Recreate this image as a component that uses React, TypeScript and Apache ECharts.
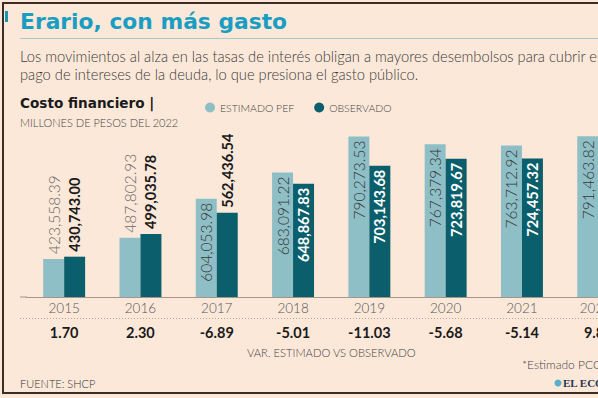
import React, { useEffect, useRef } from 'react';
import * as echarts from 'echarts';

const categories = ['2015', '2016', '2017', '2018', '2019', '2020', '2021', '2022*'];
const estimadoPEF = [423558.39, 487802.93, 604053.98, 683091.22, 790273.53, 767379.34, 763712.92, 791463.82];
const observado = [430743.0, 499035.78, 562436.54, 648867.83, 703143.68, 723819.67, 724457.32, 869200.0];
const variacion = ['1.70', '2.30', '-6.89', '-5.01', '-11.03', '-5.68', '-5.14', '9.82'];
const estimadoInsideFrom = 2;
const observadoInsideFrom = 3;

const BG = '#fce8d9';
const LIGHT = '#8fbfc6';
const DARK = '#0b5f6c';
const FONT = 'Lato';

const fmt = (v: number) =>
  v.toLocaleString('en-US', { minimumFractionDigits: 2, maximumFractionDigits: 2 });

export default function App() {
  const ref = useRef<HTMLDivElement>(null);
  useEffect(() => {
    if (!ref.current) return;
    const chart = echarts.init(ref.current, undefined, { renderer: 'svg' });
    const baseLabel = {
      show: true,
      rotate: 90,
      verticalAlign: 'middle',
      fontFamily: FONT,
      formatter: (p: any) => fmt(p.value),
    };
    const lightOut = { ...baseLabel, position: 'top', align: 'left', distance: 5, color: '#6a6a6a', fontSize: 15.5, fontWeight: 300 };
    const lightIn = { ...baseLabel, position: 'insideTop', align: 'right', distance: 4, color: '#353535', fontSize: 15.5, fontWeight: 300 };
    const darkOut = { ...baseLabel, position: 'top', align: 'left', distance: 5, color: '#1a1a1a', fontSize: 14.5, fontWeight: 'bold' };
    const darkIn = { ...baseLabel, position: 'insideTop', align: 'right', distance: 4, color: '#ffffff', fontSize: 14.5, fontWeight: 'bold' };

    const frame = '#3b2d25';
    chart.setOption({
      animation: false,
      backgroundColor: BG,
      textStyle: { fontFamily: FONT },
      legend: {
        left: 200,
        top: 97,
        icon: 'circle',
        itemWidth: 10,
        itemHeight: 10,
        itemGap: 20,
        textStyle: { fontSize: 10.5, color: '#444', fontFamily: FONT, fontWeight: 300 },
        data: ['ESTIMADO PEF', 'OBSERVADO'],
      },
      grid: { left: 26, right: 3.6, top: 110, bottom: 101 },
      xAxis: [
        {
          type: 'category',
          data: categories,
          axisLine: { show: true, lineStyle: { color: '#a6958a', width: 1 } },
          axisTick: { show: false },
          axisLabel: { color: '#555', fontSize: 13.5, fontFamily: FONT, fontWeight: 300, margin: 4 },
        },
        {
          type: 'category',
          data: variacion,
          position: 'bottom',
          offset: 24,
          axisLine: { show: false },
          axisTick: { show: false },
          axisLabel: { color: '#1a1a1a', fontSize: 14.5, fontFamily: FONT, fontWeight: 'bold', margin: 4 },
        },
      ],
      yAxis: { type: 'value', min: 310000, max: 870000, show: false, splitLine: { show: false } },
      series: [
        {
          name: 'ESTIMADO PEF',
          type: 'bar',
          xAxisIndex: 0,
          barGap: '0%',
          barCategoryGap: '45%',
          itemStyle: { color: LIGHT },
          data: estimadoPEF.map((v, i) => ({ value: v, label: i < estimadoInsideFrom ? lightOut : lightIn })),
        },
        {
          name: 'OBSERVADO',
          type: 'bar',
          xAxisIndex: 0,
          barGap: '0%',
          barCategoryGap: '45%',
          itemStyle: { color: DARK },
          data: observado.map((v, i) => ({ value: v, label: i < observadoInsideFrom ? darkOut : darkIn })),
        },
      ],
      graphic: [
        { type: 'line', shape: { x1: 2, y1: 3, x2: 640, y2: 3 }, style: { stroke: frame, lineWidth: 2 } },
        { type: 'line', shape: { x1: 3, y1: 2, x2: 3, y2: 394 }, style: { stroke: frame, lineWidth: 2 } },
        { type: 'line', shape: { x1: 2, y1: 393, x2: 640, y2: 393 }, style: { stroke: frame, lineWidth: 2 } },
        { type: 'rect', shape: { x: 5, y: 11, width: 3, height: 11 }, style: { fill: '#1597b5' } },
        {
          type: 'text', x: 20, y: 21,
          style: { text: 'Erario, con más gasto', fill: '#1a9dc3', font: 'bold 21.8px "DejaVu Sans"', textVerticalAlign: 'middle' },
        },
        { type: 'line', shape: { x1: 20, y1: 38.5, x2: 640, y2: 38.5 }, style: { stroke: '#a9c9cc', lineWidth: 1 } },
        {
          type: 'text', x: 20, y: 56,
          style: {
            text: 'Los movimientos al alza en las tasas de interés obligan a mayores desembolsos para cubrir el',
            fill: '#3a3a3a', font: `300 14.7px ${FONT}`, textVerticalAlign: 'middle',
          },
        },
        {
          type: 'text', x: 20, y: 74,
          style: {
            text: 'pago de intereses de la deuda, lo que presiona el gasto público.',
            fill: '#3a3a3a', font: `300 14.7px ${FONT}`, textVerticalAlign: 'middle',
          },
        },
        {
          type: 'text', x: 20, y: 103,
          style: { text: 'Costo financiero |', fill: '#1a1a1a', font: 'bold 13.6px "DejaVu Sans"', textVerticalAlign: 'middle' },
        },
        {
          type: 'text', x: 20, y: 122,
          style: { text: 'MILLONES DE PESOS DEL 2022', fill: '#444', font: `300 11px ${FONT}`, textVerticalAlign: 'middle' },
        },
        { type: 'line', shape: { x1: 20, y1: 297, x2: 27, y2: 297 }, style: { stroke: '#a6958a', lineWidth: 1 } },
        {
          type: 'line', shape: { x1: 20, y1: 318.5, x2: 640, y2: 318.5 },
          style: { stroke: '#b3a59b', lineWidth: 1, lineDash: [1, 2] },
        },
        {
          type: 'text', x: 247, y: 352,
          style: { text: 'VAR. ESTIMADO VS OBSERVADO', fill: '#444', font: `300 11.2px ${FONT}`, textVerticalAlign: 'middle' },
        },
        {
          type: 'text', x: 522, y: 364,
          style: { text: '*Estimado PCGPE', fill: '#444', font: `300 12px ${FONT}`, textVerticalAlign: 'middle' },
        },
        {
          type: 'text', x: 20, y: 383,
          style: { text: 'FUENTE: SHCP', fill: '#333', font: `300 11px ${FONT}`, textVerticalAlign: 'middle' },
        },
        { type: 'circle', shape: { cx: 558, cy: 383, r: 3.5 }, style: { fill: '#5aaecb' } },
        {
          type: 'text', x: 563, y: 383,
          style: { text: 'EL ECONOMISTA', fill: '#2a3550', font: 'bold 11px "Liberation Serif"', textVerticalAlign: 'middle' },
        },
      ],
    });
    return () => chart.dispose();
  }, []);
  return (
    <div style={{ position: 'fixed', left: 0, top: 0, width: 598, height: 398, overflow: 'hidden', background: BG }}>
      <div ref={ref} style={{ width: 640, height: 398 }} />
    </div>
  );
}
